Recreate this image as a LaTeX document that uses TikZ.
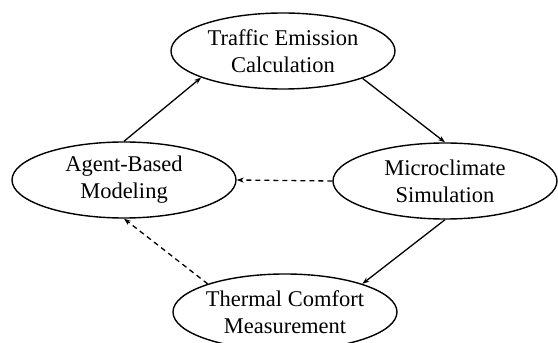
\documentclass[tikz,border=0pt]{standalone}
\usepackage{fontspec}
\setmainfont{Liberation Serif}
\usetikzlibrary{shapes.geometric,arrows.meta}
\begin{document}
\begin{tikzpicture}[x=1pt,y=1pt,
  stage/.style={ellipse,draw,line width=1.4pt,minimum width=224pt,minimum height=76pt,
    inner sep=0pt,align=center,font=\fontsize{22.5}{27}\selectfont},
  flow/.style={line width=1.3pt,-{Stealth[length=7pt,width=5pt]}},
  feedback/.style={flow,dash pattern=on 5pt off 4pt}]
\useasboundingbox (0,0) rectangle (558,343);
\node[stage] (tec) at (283,292) {Traffic Emission\\Calculation};
\node[stage] (abm) at (124,163) {Agent-Based\\Modeling};
\node[stage] (ms)  at (445,162) {Microclimate\\Simulation};
\node[stage] (tcm) at (285,31)  {Thermal Comfort\\Measurement};
\draw[flow] (abm.north) -- (tec.198);
\draw[flow] (tec.-19) -- (ms.north);
\draw[flow] (ms.south) -- (tcm.20);
\draw[feedback] (ms.west) -- (abm.east);
\draw[feedback] (tcm.160) -- (abm.south);
\end{tikzpicture}
\end{document}
